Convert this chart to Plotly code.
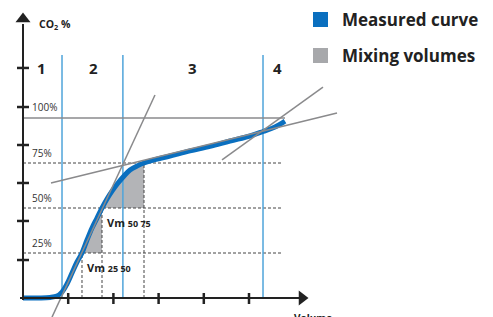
import plotly.graph_objects as go

# ---- data (volume units, CO2 %) ----
curve_vol = [0, 0.376, 0.597, 0.752, 0.863, 0.973, 1.084, 1.195, 1.305, 1.416, 1.527, 1.637,
             1.748, 1.858, 1.969, 2.102, 2.235, 2.367, 2.522, 2.677, 2.920, 3.252, 3.695,
             4.137, 4.580, 5.022, 5.310, 5.575, 5.796]
curve_co2 = [0, 0, 0.3, 1.1, 3.3, 7.8, 13.9, 20.0, 25.0, 32.2, 38.9, 44.4,
             50.0, 55.0, 59.4, 63.9, 67.8, 71.1, 73.3, 75.0, 76.9, 78.9, 81.7,
             84.2, 87.2, 90.0, 92.5, 95.0, 98.3]

phase_bounds = [0.863, 2.21, 5.31]          # blue vertical lines
phase_labels = ["1", "2", "3", "4"]
phase_label_vol = [0.42, 1.55, 3.74, 5.62]

levels = [25, 50, 75]
level_labels = ["25%", "50%", "75%"]
level_vol = [1.305, 1.748, 2.677]           # curve volume at each level

steep_tangent_vol = [0.642, 2.920]
steep_tangent_co2 = [-10.6, 112.8]
mid_tangent_vol = [0.619, 6.947]
mid_tangent_co2 = [63.9, 102.8]
top_tangent_vol = [4.403, 6.637]
top_tangent_co2 = [76.7, 117.2]

x_ticks = [1, 2, 3, 4, 5]
y_ticks = [21.1, 42.8, 63.9, 85.0, 106.1, 127.8]

# ---- layout helpers ----
PX0, PXU = 23, 45.2     # x pixel of origin, pixels per volume unit
PY0, PYU = 298, 1.8     # y pixel of origin, pixels per percent
def X(px): return (px - PX0) / PXU
def Y(py): return (PY0 - py) / PYU

BLUE = "#0A6FBF"
LBLUE = "#4FA4DA"
GREY = "#8A8A8C"
FILL = "#B3B4B7"
DARK = "#222222"

fig = go.Figure()

# shaded mixing volumes
def region(lo, hi, vcorner):
    xs, ys = [], []
    for v, c in zip(curve_vol, curve_co2):
        if lo <= c <= hi:
            xs.append(v); ys.append(c)
    xs += [vcorner, xs[0]]
    ys += [lo, lo]
    return xs, ys

for lo, hi, vc in [(25, 50, level_vol[1]), (50, 75, level_vol[2])]:
    xs, ys = region(lo, hi, vc)
    fig.add_trace(go.Scatter(x=xs, y=ys, mode="lines", fill="toself", fillcolor=FILL,
                             line=dict(width=0), hoverinfo="skip", showlegend=False))

# dashed horizontal levels
hx, hy = [], []
for lv in levels:
    hx += [0, X(283), None]; hy += [lv, lv, None]
fig.add_trace(go.Scatter(x=hx, y=hy, mode="lines", line=dict(color="#444", width=1, dash="3px,2px"),
                         hoverinfo="skip", showlegend=False))
# dashed verticals
vx_, vy_ = [], []
for lv, v in zip(levels, level_vol):
    vx_ += [v, v, None]; vy_ += [0, lv, None]
fig.add_trace(go.Scatter(x=vx_, y=vy_, mode="lines", line=dict(color="#444", width=1, dash="3px,2px"),
                         hoverinfo="skip", showlegend=False))

# blue phase boundaries
bx, by = [], []
for b in phase_bounds:
    bx += [b, b, None]; by += [0, Y(55), None]
fig.add_trace(go.Scatter(x=bx, y=by, mode="lines", line=dict(color=LBLUE, width=1.5),
                         hoverinfo="skip", showlegend=False))

# 100% line
fig.add_trace(go.Scatter(x=[0, X(285)], y=[100, 100], mode="lines", line=dict(color=GREY, width=1.5),
                         hoverinfo="skip", showlegend=False))

# measured curve
fig.add_trace(go.Scatter(x=curve_vol, y=curve_co2, mode="lines", line=dict(color=BLUE, width=5, shape="spline"),
                         hoverinfo="skip", showlegend=False))

# tangents
for tx, ty in [(steep_tangent_vol, steep_tangent_co2), (mid_tangent_vol, mid_tangent_co2),
               (top_tangent_vol, top_tangent_co2)]:
    fig.add_trace(go.Scatter(x=tx, y=ty, mode="lines", line=dict(color=GREY, width=1.5),
                             hoverinfo="skip", showlegend=False))

# axes
fig.add_trace(go.Scatter(x=[X(20), X(300), None, 0, 0], y=[0, 0, None, Y(300), Y(24)], mode="lines",
                         line=dict(color=DARK, width=2), hoverinfo="skip", showlegend=False))
fig.add_trace(go.Scatter(x=[X(302)], y=[0], mode="markers",
                         marker=dict(symbol="triangle-right", size=13, color=DARK), hoverinfo="skip", showlegend=False))
fig.add_trace(go.Scatter(x=[0], y=[Y(19)], mode="markers",
                         marker=dict(symbol="triangle-up", size=13, color=DARK), hoverinfo="skip", showlegend=False))
tx_, ty_ = [], []
for t in x_ticks:
    tx_ += [t, t, None]; ty_ += [Y(293), Y(304), None]
for t in y_ticks:
    tx_ += [X(17), X(29), None]; ty_ += [t, t, None]
fig.add_trace(go.Scatter(x=tx_, y=ty_, mode="lines", line=dict(color=DARK, width=2.5),
                         hoverinfo="skip", showlegend=False))

# legend squares
fig.add_trace(go.Scatter(x=[X(320.5), X(320.5)], y=[Y(19.5), Y(55.5)], mode="markers",
                         marker=dict(symbol="square", size=15, color=[BLUE, "#A7A8AB"]),
                         hoverinfo="skip", showlegend=False))

ann = []
def text(x, y, s, size, bold=False, color=DARK, xanchor="left", yanchor="middle"):
    ann.append(dict(x=x, y=y, xref="x", yref="y", text=(f"<b>{s}</b>" if bold else s), showarrow=False,
                    xanchor=xanchor, yanchor=yanchor, font=dict(size=size, color=color)))

for lab, v in zip(phase_labels, phase_label_vol):
    text(v, Y(68), lab, 15, bold=True, xanchor="center")
text(X(30), Y(107), "100%", 10, color="#333")
for lab, lv in zip(level_labels, levels):
    text(X(30), lv + 5.5, lab, 10, color="#333")
text(X(37), Y(24), "CO<sub>2</sub> %", 10.5, bold=True)
text(X(105), Y(222), "Vm <span style='font-size:9px'>50 75</span>", 11, bold=True)
text(X(85), Y(267), "Vm <span style='font-size:9px'>25 50</span>", 11, bold=True)
text(X(292), Y(309), "Volume", 10, bold=True, yanchor="top")
text(X(340), Y(19.5), "Measured curve", 17, bold=True)
text(X(340), Y(55.5), "Mixing volumes", 17, bold=True)

fig.update_layout(
    width=493, height=317, margin=dict(l=0, r=0, t=0, b=0),
    paper_bgcolor="white", plot_bgcolor="white",
    font=dict(family="Open Sans, sans-serif", color=DARK),
    xaxis=dict(range=[X(0), X(493)], visible=False, fixedrange=True),
    yaxis=dict(range=[Y(317), Y(0)], visible=False, fixedrange=True),
    annotations=ann, showlegend=False,
)
fig.write_html("out.html", config={"displayModeBar": False},
               post_script="document.body.style.margin='0';document.body.style.overflow='hidden';")
